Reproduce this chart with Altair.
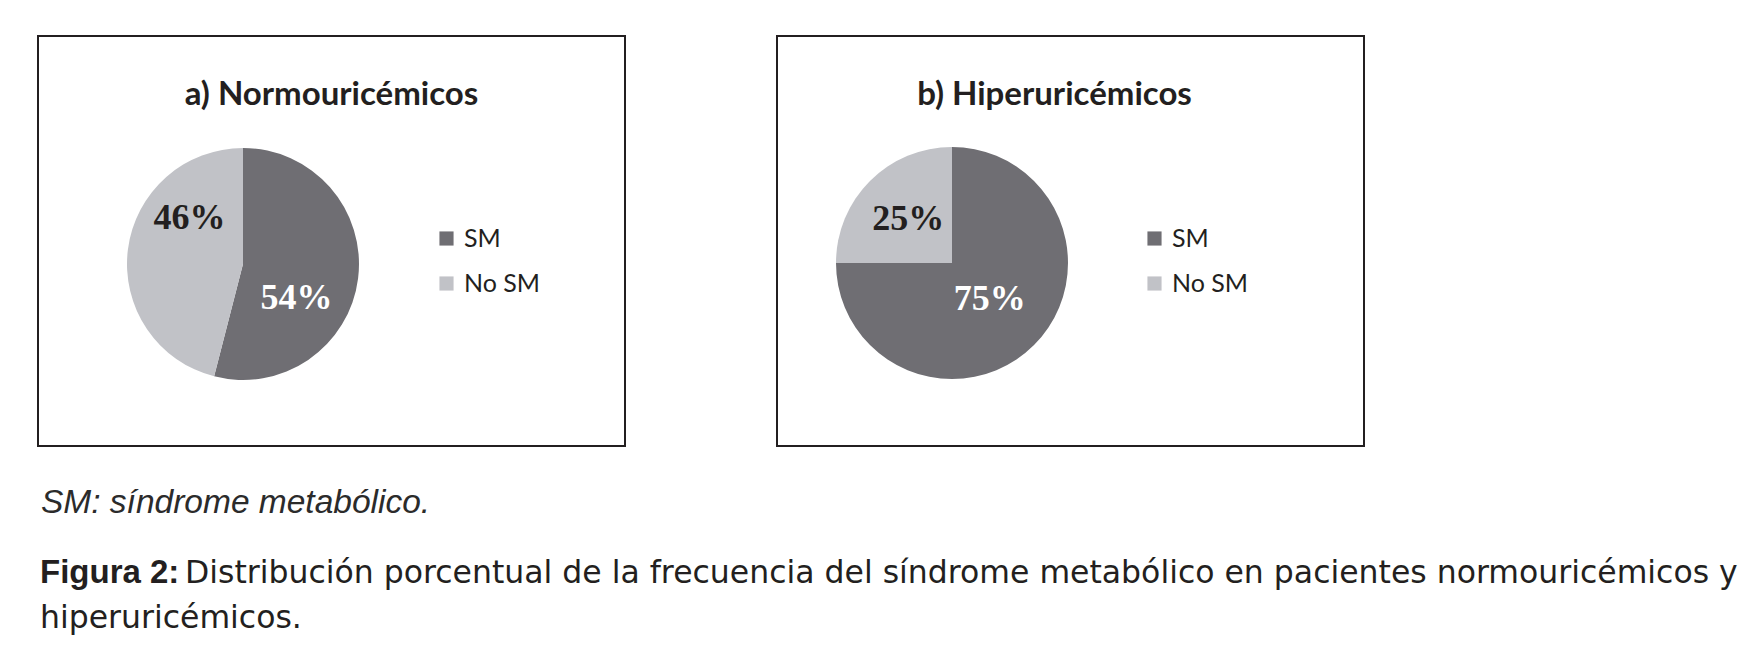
import altair as alt
import pandas as pd

# ---- data ----
grupos = ["SM", "No SM"]
normo_pct = [54, 46]
hiper_pct = [75, 25]
titulos = ["a) Normouricémicos", "b) Hiperuricémicos"]
nota = "SM: síndrome metabólico."
fig_label = "Figura 2:"
fig_line1 = "Distribución porcentual de la frecuencia del síndrome metabólico en pacientes normouricémicos y"
fig_line2 = "hiperuricémicos."

DARK = "#6f6e73"
LIGHT = "#c1c2c7"
INK = "#231f20"


def panel(values, title, cx, cy, legend_x, title_dx, label_offsets):
    df = pd.DataFrame({"grupo": grupos, "pct": values})
    base = alt.Chart(df).transform_calculate(
        orden="datum.grupo == 'SM' ? 0 : 1",
        etiqueta="datum.pct + '%'",
    ).encode(
        theta=alt.Theta("pct:Q", stack=True),
        order=alt.Order("orden:Q"),
    )
    arc = base.mark_arc(radius=116).encode(
        x=alt.value(cx),
        y=alt.value(cy),
        color=alt.Color(
            "grupo:N",
            scale=alt.Scale(domain=grupos, range=[DARK, LIGHT]),
            legend=alt.Legend(
                title=None,
                orient="none",
                legendX=legend_x,
                legendY=190,
                symbolType="square",
                symbolSize=200,
                symbolStrokeWidth=0,
                labelFont="Lato",
                labelFontSize=25,
                labelColor=INK,
                labelOffset=5,
                rowPadding=19,
            ),
        ),
    )
    (sx, sy), (nx, ny) = label_offsets
    layers = [arc]
    for g, col, ox, oy in (("SM", "white", sx, sy), ("No SM", INK, nx, ny)):
        layers.append(
            base.mark_text(
                radius=62, font="Liberation Serif", fontWeight="bold", fontSize=36,
                color=col, dx=ox, dy=oy,
            ).encode(
                x=alt.value(cx),
                y=alt.value(cy),
                text="etiqueta:N",
                opacity=alt.condition(alt.datum.grupo == g, alt.value(1), alt.value(0)),
            )
        )
    return alt.layer(*layers).properties(
        width=587,
        height=410,
        view=alt.ViewBackground(stroke=INK, strokeWidth=2),
        title=alt.TitleParams(
            title,
            font="Lato",
            fontSize=33,
            fontWeight="bold",
            color=INK,
            anchor="middle",
            orient="top",
            offset=-76,
            dx=title_dx,
        ),
    )


pa = panel(normo_pct, titulos[0], 205, 228, 396, 0, ((-8, 26), (8, -38)))
pb = panel(hiper_pct, titulos[1], 175, 227, 365, -16, ((-6, -8), (0, 0)))

top = alt.hconcat(pa, pb, spacing=150).resolve_scale(color="independent").resolve_legend(color="independent")

cap_df = pd.DataFrame({"t": [0]})
capbase = alt.Chart(cap_df)
l_nota = capbase.mark_text(
    align="left", baseline="alphabetic", font="Liberation Sans", fontStyle="italic",
    fontSize=33.5, color="#2b2b2b"
).encode(text=alt.value(nota), x=alt.value(3), y=alt.value(65))
l_fig = capbase.mark_text(
    align="left", baseline="alphabetic", font="Liberation Sans", fontWeight="bold",
    fontSize=33, color=INK
).encode(text=alt.value(fig_label), x=alt.value(2), y=alt.value(135))
l_1 = capbase.mark_text(
    align="left", baseline="alphabetic", font="DejaVu Sans",
    fontSize=31.5, color=INK
).encode(text=alt.value(fig_line1), x=alt.value(147), y=alt.value(135))
l_2 = capbase.mark_text(
    align="left", baseline="alphabetic", font="DejaVu Sans",
    fontSize=31.5, color=INK
).encode(text=alt.value(fig_line2), x=alt.value(2), y=alt.value(180))
bottom = alt.layer(l_nota, l_fig, l_1, l_2).properties(
    width=1690, height=200, view=alt.ViewBackground(stroke="transparent")
)

chart = alt.vconcat(top, bottom, spacing=0).properties(
    padding={"left": 29, "top": 27, "right": 5, "bottom": 5}
)

chart.save("out.html", embed_options={"renderer": "svg", "actions": False})
